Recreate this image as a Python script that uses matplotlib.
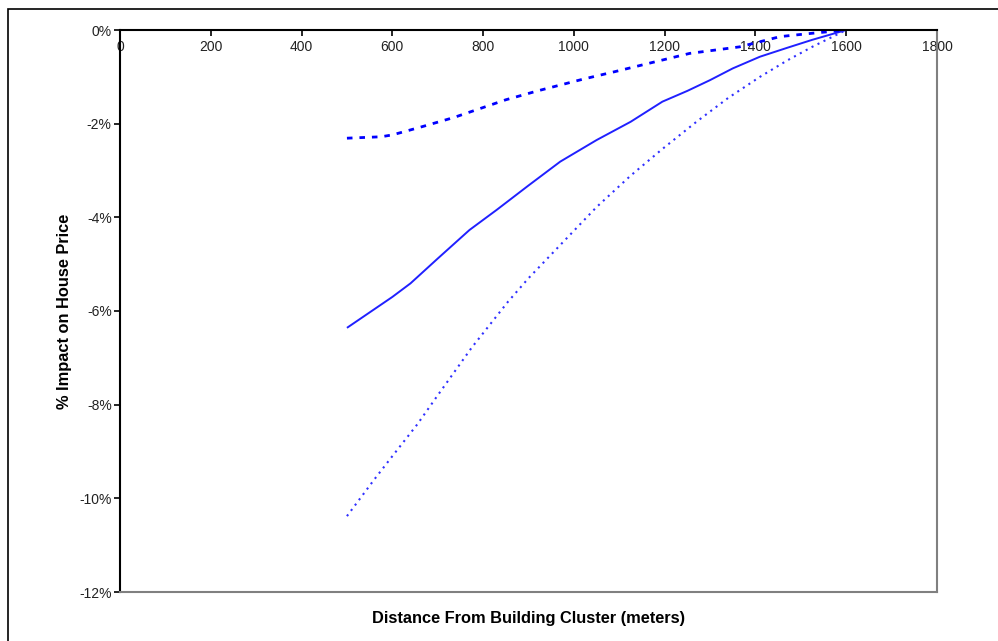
import numpy as np
import matplotlib.pyplot as plt
from matplotlib.patches import Rectangle
from matplotlib.ticker import FuncFormatter

plt.rcParams['font.family'] = ['Liberation Sans', 'DejaVu Sans']

# ------------------------------------------------------------------
# DATA (% impact vs distance in meters)
# ------------------------------------------------------------------
mid_x = [500, 550, 600, 640, 700, 770, 830, 900, 970, 1050, 1125, 1195,
         1250, 1300, 1350, 1410, 1470, 1525, 1600]
mid_y = [-6.36, -6.03, -5.70, -5.41, -4.88, -4.27, -3.84, -3.32, -2.81, -2.35, -1.96, -1.53,
         -1.30, -1.07, -0.82, -0.57, -0.38, -0.21, 0.0]

low_x = [500, 560, 600, 655, 700, 775, 855, 900, 975, 1050, 1125, 1195,
         1270, 1340, 1410, 1470, 1525, 1600]
low_y = [-10.38, -9.60, -9.10, -8.42, -7.80, -6.78, -5.80, -5.30, -4.54, -3.78, -3.11, -2.54,
         -1.96, -1.45, -1.00, -0.65, -0.36, 0.0]

up_x = [500, 575, 600, 660, 735, 850, 920, 1020, 1090, 1170, 1255, 1365, 1455, 1525, 1600]
up_y = [-2.31, -2.28, -2.24, -2.08, -1.87, -1.49, -1.30, -1.05, -0.89, -0.70, -0.50, -0.36,
        -0.14, -0.07, 0.0]

x_ticks = np.arange(0, 1801, 200)
y_ticks = np.arange(-12, 1, 2)

# ------------------------------------------------------------------
# PLOT
# ------------------------------------------------------------------
fig = plt.figure(figsize=(9.98, 6.41), dpi=100)
ax = fig.add_axes([120 / 998, 1 - 592 / 641, 817 / 998, 562 / 641])

# outer chart frame (right and bottom edges run off the picture)
fig.patches.append(Rectangle((8 / 998, -0.05), 1.2, 1 - 9 / 641 + 0.05,
                             transform=fig.transFigure, fill=False,
                             edgecolor="black", linewidth=1.2))

ax.plot(mid_x, mid_y, color="#2020ff", linewidth=1.4, solid_capstyle="butt")
ax.plot(low_x, low_y, color="#3030ff", linewidth=1.5, linestyle=(0, (1, 2.2)))
ax.plot(up_x, up_y, color="#0000ff", linewidth=2.0, linestyle=(0, (2, 2.5)))

ax.set_xlim(0, 1800)
ax.set_ylim(-12, 0)
ax.set_xticks(x_ticks)
ax.set_yticks(y_ticks)
ax.yaxis.set_major_formatter(FuncFormatter(lambda v, _: f"{v:.0f}%"))

# x axis crosses at 0% (top of the plot)
ax.spines["bottom"].set_position(("data", 0))
ax.spines["bottom"].set_color("black")
ax.spines["bottom"].set_linewidth(1.5)
ax.spines["left"].set_linewidth(1.5)
ax.spines["top"].set_visible(False)
ax.spines["right"].set_color("#808080")
ax.spines["right"].set_linewidth(1.5)
ax.axhline(-12, color="#808080", linewidth=1.5, clip_on=False, zorder=3)

ax.tick_params(axis="both", direction="out", length=4, width=1.2,
               labelsize=10, labelcolor="#222222", pad=2)
ax.tick_params(axis="x", pad=3)

ax.set_ylabel("% Impact on House Price", fontsize=11.8, fontweight="bold", labelpad=5)
fig.text((120 + 937) / 2 / 998, 1 - 618 / 641, "Distance From Building Cluster (meters)",
         ha="center", va="center", fontsize=11.8, fontweight="bold")

fig.savefig("out.png", dpi=100)
